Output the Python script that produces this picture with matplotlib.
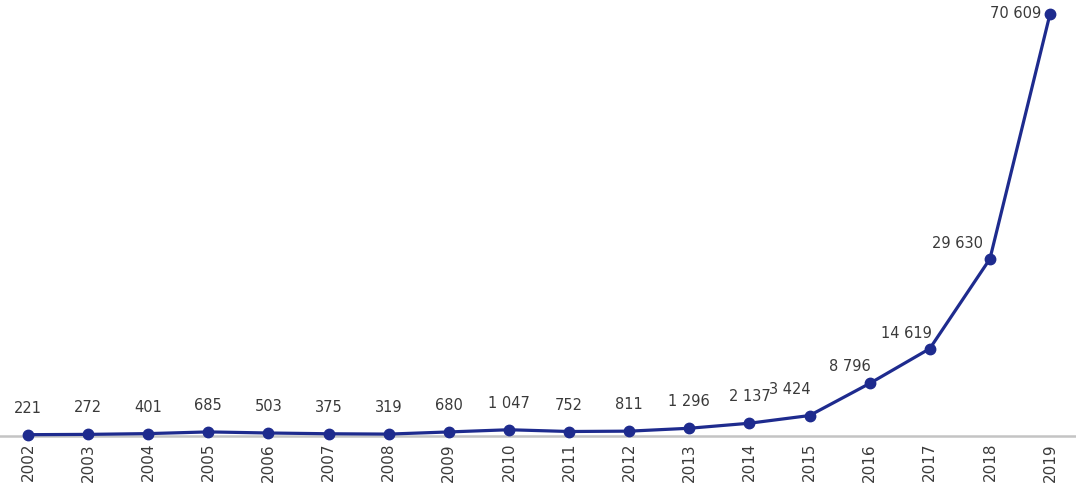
import matplotlib.pyplot as plt

# data
years = ['2002', '2003', '2004', '2005', '2006', '2007', '2008', '2009', '2010',
         '2011', '2012', '2013', '2014', '2015', '2016', '2017', '2018', '2019']
values = [221, 272, 401, 685, 503, 375, 319, 680, 1047,
          752, 811, 1296, 2137, 3424, 8796, 14619, 29630, 70609]

line_color = '#1e2b8e'
text_color = '#3a3a3a'

fig = plt.figure(figsize=(10.76, 4.88), dpi=100)
ax = fig.add_axes([0, 52 / 488, 1, 436 / 488])

x = list(range(len(years)))
ax.plot(x, values, color=line_color, linewidth=2.3, marker='o', markersize=7.5,
        solid_joinstyle='round', solid_capstyle='round', zorder=3, clip_on=False)

# label offsets in points (most sit straight above the point)
offsets = {13: (-14, 19, 'center'), 14: (-14, 12, 'center'), 15: (-17, 11, 'center'),
           16: (-23, 11, 'center'), 17: (-6, 0, 'right')}

for i, v in enumerate(values):
    label = f"{v:,}".replace(',', ' ')
    dx, dy, ha = offsets.get(i, (0, 19, 'center'))
    ax.annotate(label, (i, v), xytext=(dx, dy), textcoords='offset points',
                ha=ha, va='center', fontsize=10.5, color=text_color)

ax.set_xlim(-0.466, 17.432)
ax.set_ylim(0, 72947)
ax.set_xticks(x)
ax.set_xticklabels(years, rotation=90, fontsize=11, color=text_color)
ax.tick_params(axis='x', length=0, pad=5)
ax.set_yticks([])

for side in ['top', 'right', 'left']:
    ax.spines[side].set_visible(False)
ax.spines['bottom'].set_color('#c4c4c4')
ax.spines['bottom'].set_linewidth(1.8)

fig.savefig('out.png', dpi=100)
